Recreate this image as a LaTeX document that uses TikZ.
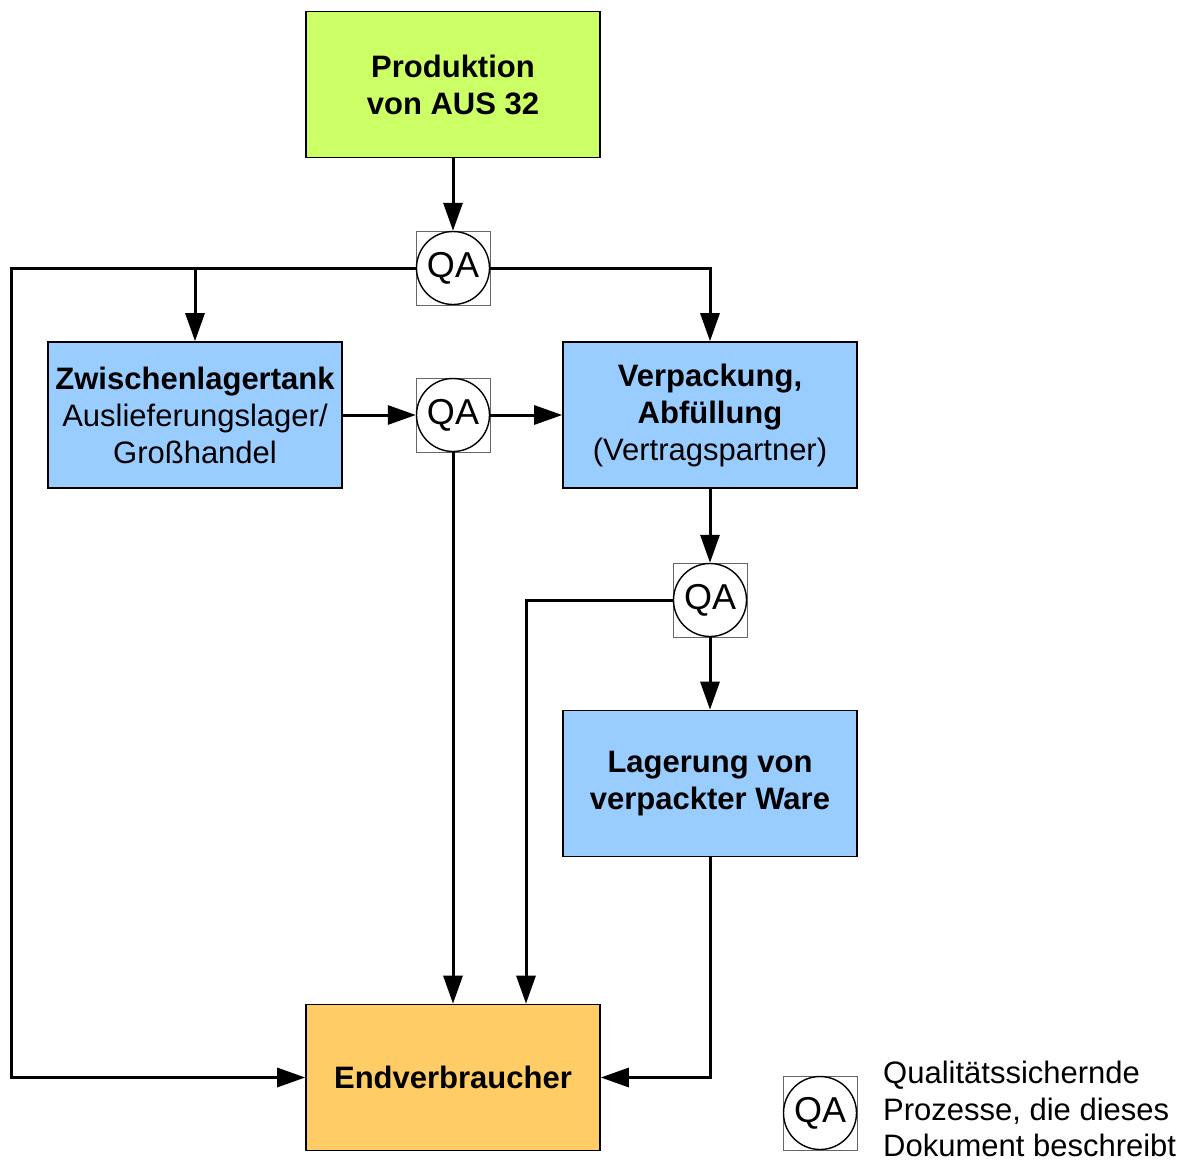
\documentclass[tikz,border=0pt]{standalone}
\usepackage{fontspec}
\setmainfont{Liberation Sans}
\usetikzlibrary{arrows.meta,calc}
\definecolor{prodgreen}{RGB}{204,255,102}
\definecolor{boxblue}{RGB}{153,204,255}
\definecolor{endorange}{RGB}{255,204,102}
\begin{document}
\begin{tikzpicture}[x=1pt,y=-1pt,
  every node/.style={font=\fontsize{31}{37}\selectfont},
  box/.style={draw=black,line width=1.6pt,minimum width=294pt,minimum height=146pt,align=center,inner sep=0pt},
  qasq/.style={draw=black!60,line width=0.9pt,minimum size=74pt,inner sep=0pt},
  qa/.style={draw=black,circle,line width=1.4pt,minimum size=73pt,inner sep=0pt,font=\fontsize{36}{40}\selectfont},
  conn/.style={line width=3pt,-{Triangle[length=28pt,width=19pt]}}]
\useasboundingbox (0,0) rectangle (1192,1162);
% boxes
\node[box,fill=prodgreen] (prod) at (453,84.5) {\textbf{Produktion}\\\textbf{von AUS 32}};
\node[box,fill=boxblue] (zw) at (195,415) {\textbf{Zwischenlagertank}\\Auslieferungslager/\\Großhandel};
\node[box,fill=boxblue] (vp) at (710,415) {\textbf{Verpackung,}\\\textbf{Abfüllung}\\(Vertragspartner)};
\node[box,fill=boxblue] (lg) at (710,783.5) {\textbf{Lagerung von}\\\textbf{verpackter Ware}};
\node[box,fill=endorange] (ev) at (453,1077.5) {\textbf{Endverbraucher}};
% QA nodes
\node[qasq] (qa1s) at (453,268) {};
\node[qa] (qa1) at (453,268) {\raisebox{-3pt}{QA}};
\node[qasq] (qa2s) at (453,415) {};
\node[qa] (qa2) at (453,415) {\raisebox{-3pt}{QA}};
\node[qasq] (qa3s) at (710,600) {};
\node[qa] (qa3) at (710,600) {\raisebox{-3pt}{QA}};
\node[qasq] (qa4s) at (820,1113) {};
\node[qa] (qa4) at (820,1113) {\raisebox{-3pt}{QA}};
\node[anchor=west,align=left,inner sep=0pt,font=\fontsize{31}{36.5}\selectfont] (leg) at (883,1109) {Qualitätssichernde\\Prozesse, die dieses\\Dokument beschreibt};
% coordinates
\coordinate (c1) at (11,268);
\coordinate (c3) at (195,268);
\coordinate (c4) at (526,600);
% connectors
\draw[conn] (prod.south) -- (qa1.north);
\draw[conn] (qa1.west) -- (c1) |- (ev.west);
\draw[conn] (c3) -- (zw.north);
\draw[conn] (qa1.east) -| (vp.north);
\draw[conn] (zw.east) -- (qa2.west);
\draw[conn] (qa2.east) -- (vp.west);
\draw[conn] (qa2.south) -- (qa2.south |- ev.north);
\draw[conn] (vp.south) -- (qa3.north);
\draw[conn] (qa3.west) -- (c4) -- (c4 |- ev.north);
\draw[conn] (qa3.south) -- (lg.north);
\draw[conn] (lg.south) |- (ev.east);
\end{tikzpicture}
\end{document}
